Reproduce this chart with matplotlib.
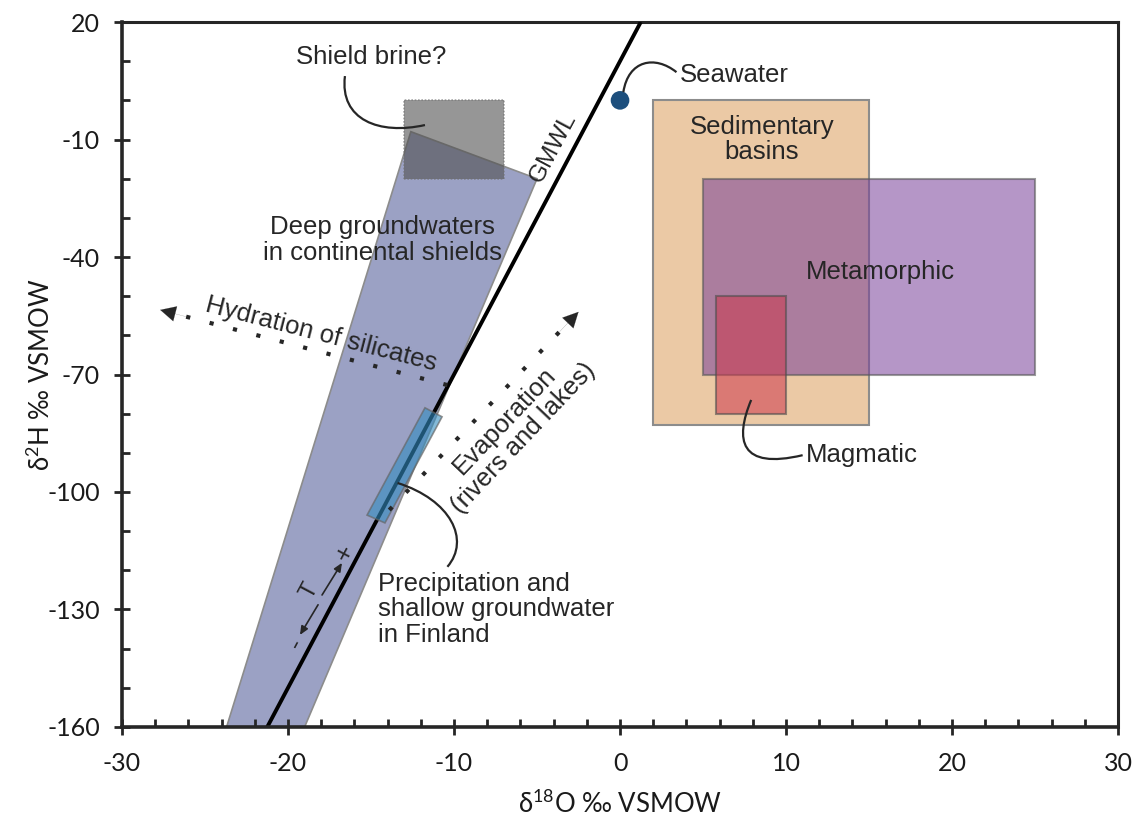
import matplotlib
matplotlib.use("Agg")
import matplotlib.pyplot as plt
import numpy as np
from matplotlib.patches import Polygon, Rectangle, PathPatch
from matplotlib.path import Path
from matplotlib.ticker import MultipleLocator, FixedLocator

plt.rcParams['mathtext.fontset'] = 'custom'
plt.rcParams['mathtext.rm'] = 'Lato'
plt.rcParams['mathtext.it'] = 'Lato'
plt.rcParams['axes.unicode_minus'] = False

# ---------------- data ----------------
gmwl_slope = 8.0
gmwl_intercept = 10.0
gmwl_x = [-21.25, 1.25]

x_ticks = [-30, -20, -10, 0, 10, 20, 30]
y_ticks = [20, -10, -40, -70, -100, -130, -160]

shield_brine_x = [-13, -7]
shield_brine_y = [-20, 0]

deep_gw_x = [-12.6, -5.0, -19.0, -23.7]
deep_gw_y = [-8.0, -20.0, -160.0, -160.0]

precip_x = [-11.75, -10.72, -14.16, -15.24]
precip_y = [-78.5, -80.8, -107.9, -105.9]

seawater_x = [0]
seawater_y = [0]

sed_x = [2, 15]
sed_y = [-83, 0]
meta_x = [5, 25]
meta_y = [-70, -20]
magma_x = [5.8, 10]
magma_y = [-80, -50]

hydration_start = (-10.4, -72.7)
hydration_end = (-27.7, -53.5)
evap_start = (-13.9, -104.6)
evap_end = (-2.5, -54.0)

# ---------------- figure ----------------
fig = plt.figure(figsize=(11.36, 8.16), dpi=100)
ax = fig.add_axes([0.1074, 0.1091, 0.8768, 0.8639])
ax.set_xlim(-30, 30)
ax.set_ylim(-160, 20)

ann_font = 'Liberation Sans'
txt_col = '#262626'
fs = 18.5

# Deep groundwaters polygon
ax.add_patch(Polygon(list(zip(deep_gw_x, deep_gw_y)), closed=True,
                     facecolor='#9ba1c4', edgecolor='#8c8c8c', lw=1.2, zorder=1))
# Shield brine box
ax.add_patch(Rectangle((shield_brine_x[0], shield_brine_y[0]),
                       shield_brine_x[1] - shield_brine_x[0],
                       shield_brine_y[1] - shield_brine_y[0],
                       facecolor='#505050', alpha=0.6, edgecolor='#707070',
                       lw=1.2, ls=(0, (1, 1)), zorder=2))

# Sedimentary, metamorphic, magmatic
ax.add_patch(Rectangle((sed_x[0], sed_y[0]), sed_x[1] - sed_x[0], sed_y[1] - sed_y[0],
                       facecolor='#ebc9a5', edgecolor='#8c8c8c', lw=1.5, zorder=1))
ax.add_patch(Rectangle((meta_x[0], meta_y[0]), meta_x[1] - meta_x[0], meta_y[1] - meta_y[0],
                       facecolor=(0.47, 0.25, 0.60, 0.55), edgecolor=(0.35, 0.35, 0.35, 0.6),
                       lw=1.5, zorder=2))
ax.add_patch(Rectangle((magma_x[0], magma_y[0]), magma_x[1] - magma_x[0], magma_y[1] - magma_y[0],
                       facecolor=(0.80, 0.22, 0.30, 0.55), edgecolor=(0.30, 0.30, 0.30, 0.6),
                       lw=1.5, zorder=3))

# GMWL
gx = np.array(gmwl_x)
ax.plot(gx, gmwl_slope * gx + gmwl_intercept, color='black', lw=2.8, zorder=4,
        solid_capstyle='butt')

# Precipitation box
ax.add_patch(Polygon(list(zip(precip_x, precip_y)), closed=True,
                     facecolor=(0.20, 0.55, 0.75, 0.6), edgecolor=(0.4, 0.4, 0.4, 0.7),
                     lw=1.2, zorder=5))

# Seawater
ax.scatter(seawater_x, seawater_y, s=180, color='#1d4f7d', zorder=6, edgecolors='none')

# Dotted arrows
def dotted_arrow(start, end):
    s = np.array(start); e = np.array(end)
    ax.plot([s[0], s[0] + (e[0] - s[0]) * 0.93], [s[1], s[1] + (e[1] - s[1]) * 0.93],
            color='#262626', lw=3.0, ls=(0, (1, 4.8)), zorder=6, dash_capstyle='butt')
    ax.annotate('', xy=end, xytext=(s[0] + (e[0] - s[0]) * 0.9, s[1] + (e[1] - s[1]) * 0.9),
                arrowprops=dict(arrowstyle='-|>,head_length=1.1,head_width=0.55',
                                color='#262626', lw=0.1, shrinkA=0, shrinkB=0),
                zorder=6)

dotted_arrow(hydration_start, hydration_end)
dotted_arrow(evap_start, evap_end)

# Connector curves
def bez(pts):
    codes = [Path.MOVETO, Path.CURVE4, Path.CURVE4, Path.CURVE4]
    ax.add_patch(PathPatch(Path(pts, codes), facecolor='none', edgecolor='#262626',
                           lw=1.6, zorder=7))

bez([(-16.57, 6.2), (-16.9, -5.0), (-14.5, -8.9), (-11.75, -6.3)])
bez([(0.2, 2.1), (0.5, 10.3), (2.1, 11.6), (3.4, 7.2)])
bez([(7.9, -76.5), (6.9, -86.7), (7.2, -94.4), (11.0, -90.6)])
bez([(-13.4, -97.7), (-10.2, -102.0), (-9.0, -112.2), (-10.4, -119.1)])

# Labels
def t(x, y, s, **kw):
    kw.setdefault('ha', 'center')
    kw.setdefault('va', 'center')
    kw.setdefault('fontsize', fs)
    ax.text(x, y, s, family=ann_font, color=txt_col, zorder=8, **kw)

t(-15.0, 11.0, 'Shield brine?')
t(-4.0, -12.0, 'GMWL', fontsize=17.5, rotation=62, rotation_mode='anchor')
t(-14.3, -35.7, 'Deep groundwaters\nin continental shields', linespacing=1.1)
t(-18.0, -59.8, 'Hydration of silicates', rotation=-14.5, rotation_mode='anchor')
t(-6.4, -84.0, 'Evaporation\n(rivers and lakes)', rotation=46.5, rotation_mode='anchor',
  linespacing=1.05)
t(-14.6, -130.0, 'Precipitation and\nshallow groundwater\nin Finland', ha='left',
  linespacing=1.1)
t(3.6, 6.6, 'Seawater', ha='left')
t(8.55, -10.0, 'Sedimentary\nbasins', linespacing=1.1)
t(15.7, -43.8, 'Metamorphic')
t(11.2, -90.6, 'Magmatic', ha='left')

# Temperature annotation
t(-16.57, -115.6, '+', fontsize=19, rotation=62)
t(-19.5, -138.8, '-', fontsize=19, rotation=62)
t(-18.7, -125.3, 'T', fontsize=17, rotation=62)
ax.annotate('', xy=(-16.75, -118.1), xytext=(-17.95, -126.3),
            arrowprops=dict(arrowstyle='-|>,head_length=0.5,head_width=0.22',
                            color='#262626', lw=1.2, shrinkA=0, shrinkB=0), zorder=7)
ax.annotate('', xy=(-19.28, -136.5), xytext=(-18.19, -128.8),
            arrowprops=dict(arrowstyle='-|>,head_length=0.5,head_width=0.22',
                            color='#262626', lw=1.2, shrinkA=0, shrinkB=0), zorder=7)

# Axes styling
for sp in ['left', 'bottom']:
    ax.spines[sp].set_linewidth(2.6)
    ax.spines[sp].set_color('#262626')
for sp in ['top', 'right']:
    ax.spines[sp].set_linewidth(2.2)
    ax.spines[sp].set_color('#262626')
ax.spines['left'].set_zorder(10)
ax.spines['bottom'].set_zorder(10)

ax.xaxis.set_major_locator(FixedLocator(x_ticks))
ax.xaxis.set_minor_locator(MultipleLocator(2))
ax.yaxis.set_major_locator(FixedLocator(y_ticks))
ax.yaxis.set_minor_locator(MultipleLocator(10))
ax.tick_params(which='major', direction='inout', length=12, width=2, color='#262626',
               labelsize=18, pad=6)
ax.tick_params(which='minor', direction='in', length=6, width=2, color='#262626')
ax.tick_params(axis='x', which='major', pad=12)
ax.tick_params(axis='y', which='major', pad=10)
for lab in ax.get_xticklabels() + ax.get_yticklabels():
    lab.set_family('Lato')
    lab.set_color('#1a1a1a')

ax.set_xlabel(r'δ$^{18}$O ‰ VSMOW', family='Lato', fontsize=18.5, color='#1a1a1a')
ax.set_ylabel(r'δ$^{2}$H ‰ VSMOW', family='Lato', fontsize=18.5, color='#1a1a1a')
ax.xaxis.set_label_coords(0.5, -0.09)
ax.yaxis.set_label_coords(-0.067, 0.5)

fig.savefig('out.png', dpi=100)
